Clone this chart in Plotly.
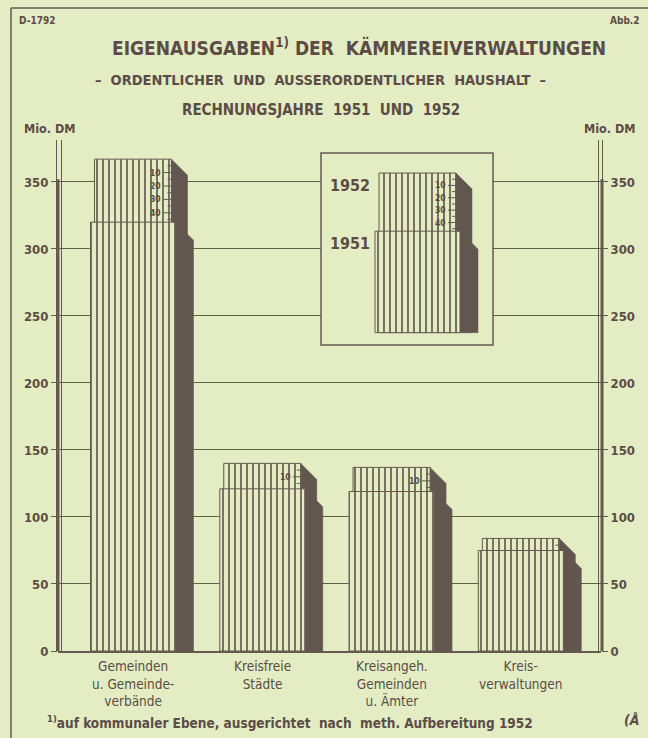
import plotly.graph_objects as go

# ---------------- data ----------------
categories = ["Gemeinden<br>u. Gemeinde-<br>verbände", "Kreisfreie<br>Städte",
              "Kreisangeh.<br>Gemeinden<br>u. Ämter", "Kreis-<br>verwaltungen"]
values_1951 = [320, 121, 119, 75]
values_1952 = [367, 140, 137, 84]
y_ticks = [0, 50, 100, 150, 200, 250, 300, 350]
legend_years = ["1951", "1952"]
legend_values = [320, 367]
scale_step = 10

# ---------------- styling / layout helpers ----------------
W, H = 648, 738
ML, MR, MT, MB = 58, 47, 140, 87
PW, PH = W - ML - MR, H - MT - MB
BG = "#e3ecc3"
INK = "#5b4d46"
LINE = "#665950"
GRID = "#58634a"
SHADOW = "#62574f"
FONT2 = "DejaVu Sans Condensed, Liberation Sans Narrow, sans-serif"


def pxx(x):
    return (x - ML) / PW


def pxy(y):
    return (H - MB - y) / PH


YMAX = 381.3
XR = [-0.58, 3.62]
ppx = PW / (XR[1] - XR[0])
ppy = PH / YMAX
W51 = 85 / ppx
W52 = 77 / ppx

# inset axes
XR3 = [-(417.5 - 321) / ppx, (493 - 417.5) / ppx]
YR3 = [228, 383.2]
ppy3 = (345 - 153) / (YR3[1] - YR3[0])
BASE3 = 238

fig = go.Figure()


def shadow_paths(xs, v51, v52, py_unit, base):
    sx, sy = [], []
    for c, a, b in zip(xs, v51, v52):
        for top, w, d in ((b, W52, 16), (a, W51, 18)):
            xr = c + w / 2
            dx = d / ppx
            dy = d / py_unit
            sx += [xr, xr + dx, xr + dx, xr, xr, None]
            sy += [top, top - dy, base, base, top, None]
    return sx, sy


def scale_marks(xs, v51, v52, xref, yref):
    tx, ty, ann = [], [], []
    for c, a, b in zip(xs, v51, v52):
        xr = c + W52 / 2
        k = 5
        while k < b - a:
            ln = (8 if k % scale_step == 0 else 4) / ppx
            tx += [xr - ln, xr, None]
            ty += [b - k, b - k, None]
            if k % scale_step == 0:
                ann.append(dict(x=xr, y=b - k, xref=xref, yref=yref, text="<b>%d</b>" % k,
                                showarrow=False, xanchor="right", xshift=-8,
                                font=dict(size=8.5, color=INK, family=FONT2)))
            k += 5
    return tx, ty, ann


xs = list(range(len(categories)))

# main shadows (below bars)
sx, sy = shadow_paths(xs, values_1951, values_1952, ppy, 0)
fig.add_trace(go.Scatter(x=sx, y=sy, mode="lines", fill="toself", fillcolor=SHADOW,
                         line=dict(color=SHADOW, width=0.5), xaxis="x", yaxis="y",
                         hoverinfo="skip"))

pattern = dict(shape="|", fgcolor=LINE, bgcolor=BG, size=6, solidity=0.28, fillmode="replace")

fig.add_trace(go.Bar(x=xs, y=values_1952, width=W52, xaxis="x2", yaxis="y2", name="1952",
                     marker=dict(color=BG, pattern=pattern, line=dict(color=LINE, width=1))))
fig.add_trace(go.Bar(x=xs, y=values_1951, width=W51, xaxis="x2", yaxis="y2", name="1951",
                     marker=dict(color=BG, pattern=pattern, line=dict(color=LINE, width=1))))

tx, ty, ann_main = scale_marks(xs, values_1951, values_1952, "x2", "y2")
fig.add_trace(go.Scatter(x=tx, y=ty, mode="lines", line=dict(color=LINE, width=1),
                         xaxis="x2", yaxis="y2", hoverinfo="skip"))

# ---------------- inset legend ----------------
fig.add_trace(go.Scatter(x=[XR3[0], XR3[1], XR3[1], XR3[0], XR3[0]],
                         y=[YR3[0], YR3[0], YR3[1], YR3[1], YR3[0]],
                         mode="lines", fill="toself", fillcolor=BG, line=dict(width=0),
                         xaxis="x3", yaxis="y3", hoverinfo="skip"))
lsx, lsy = shadow_paths([0], [legend_values[0]], [legend_values[1]], ppy3, BASE3)
fig.add_trace(go.Scatter(x=lsx, y=lsy, mode="lines", fill="toself", fillcolor=SHADOW,
                         line=dict(color=SHADOW, width=0.5), xaxis="x3", yaxis="y3",
                         hoverinfo="skip"))
fig.add_trace(go.Bar(x=[0], y=[legend_values[1] - BASE3], base=BASE3, width=W52,
                     xaxis="x4", yaxis="y4",
                     marker=dict(color=BG, pattern=pattern, line=dict(color=LINE, width=1))))
fig.add_trace(go.Bar(x=[0], y=[legend_values[0] - BASE3], base=BASE3, width=W51,
                     xaxis="x4", yaxis="y4",
                     marker=dict(color=BG, pattern=pattern, line=dict(color=LINE, width=1))))
ltx, lty, ann_leg = scale_marks([0], [legend_values[0]], [legend_values[1]], "x4", "y4")
fig.add_trace(go.Scatter(x=ltx, y=lty, mode="lines", line=dict(color=LINE, width=1),
                         xaxis="x4", yaxis="y4", hoverinfo="skip"))

annotations = ann_main + ann_leg
for yr, val in zip(legend_years, legend_values):
    annotations.append(dict(x=-W51 / 2, y=val, xref="x4", yref="y4", text="<b>%s</b>" % yr,
                            showarrow=False, xanchor="right", yanchor="top", xshift=-3,
                            yshift=-1, font=dict(size=16, color=INK, family=FONT2)))

# category labels
for c, lab in zip(xs, categories):
    annotations.append(dict(x=c, y=0, xref="x", yref="y", text=lab, showarrow=False,
                            xanchor="center", yanchor="top", yshift=-5,
                            font=dict(size=13.5, color=INK, family=FONT2)))


# ---------------- texts ----------------
def txt(text, x, y, size, xanchor="center", bold=True, family=FONT2):
    annotations.append(dict(x=pxx(x), y=pxy(y), xref="paper", yref="paper",
                            text=("<b>%s</b>" % text) if bold else text, showarrow=False,
                            xanchor=xanchor, yanchor="middle",
                            font=dict(size=size, color=INK, family=family)))


txt("D-1792", 17, 20, 10, "left")
txt("Abb.2", 642, 20, 10, "right")
txt("EIGENAUSGABEN<sup>1)</sup> DER  KÄMMEREIVERWALTUNGEN", 359, 47, 19)
txt("–  ORDENTLICHER  UND  AUSSERORDENTLICHER  HAUSHALT  –", 320, 80, 14.5)
txt("RECHNUNGSJAHRE  1951  UND  1952", 321, 110, 15)
txt("Mio. DM", 50, 128, 12.5)
txt("Mio. DM", 610, 128, 12.5)
txt("<sup>1)</sup>auf kommunaler Ebene, ausgerichtet  nach  meth. Aufbereitung 1952",
    45, 722, 13.5, "left", bold=True)
txt("<i>(Å</i>", 632, 720, 14, "center", bold=True)

# ---------------- shapes (frame, axis lines, inset border) ----------------
shapes = [
    dict(type="line", xref="paper", yref="paper", x0=pxx(11), x1=pxx(648), y0=pxy(8), y1=pxy(8),
         line=dict(color=LINE, width=1.5)),
    dict(type="line", xref="paper", yref="paper", x0=pxx(11), x1=pxx(11), y0=pxy(8), y1=pxy(738),
         line=dict(color=LINE, width=1.5)),
    # left axis
    dict(type="line", xref="paper", yref="y", x0=pxx(56.5), x1=pxx(56.5), y0=0, y1=YMAX,
         line=dict(color=LINE, width=1)),
    dict(type="line", xref="paper", yref="y", x0=pxx(58), x1=pxx(58), y0=0, y1=352,
         line=dict(color=LINE, width=3)),
    dict(type="line", xref="paper", yref="y", x0=pxx(61.5), x1=pxx(61.5), y0=0, y1=YMAX,
         line=dict(color=LINE, width=1)),
    # right axis
    dict(type="line", xref="paper", yref="y", x0=pxx(598.5), x1=pxx(598.5), y0=0, y1=YMAX,
         line=dict(color=LINE, width=1)),
    dict(type="line", xref="paper", yref="y", x0=pxx(602), x1=pxx(602), y0=0, y1=352,
         line=dict(color=LINE, width=3)),
    dict(type="line", xref="paper", yref="y", x0=pxx(602.5), x1=pxx(602.5), y0=0, y1=YMAX,
         line=dict(color=LINE, width=1)),
    # inset border
    dict(type="rect", xref="paper", yref="paper", x0=pxx(321), x1=pxx(493), y0=pxy(345),
         y1=pxy(153), line=dict(color=LINE, width=1.5)),
]

tickfont = dict(size=13, color=INK, family=FONT2, weight="bold")
fig.update_layout(
    width=W, height=H, margin=dict(l=ML, r=MR, t=MT, b=MB),
    paper_bgcolor=BG, plot_bgcolor=BG, showlegend=False, barmode="overlay",
    annotations=annotations, shapes=shapes,
    xaxis=dict(range=XR, showgrid=False, zeroline=False, showticklabels=False,
               ticks="", showline=True, linecolor=LINE, linewidth=2),
    yaxis=dict(range=[0, YMAX], tickvals=y_ticks, showgrid=True, gridcolor=GRID, gridwidth=1,
               ticks="outside", ticklen=6, tickcolor=GRID, zeroline=False, showline=False,
               tickfont=tickfont),
    xaxis2=dict(overlaying="x", range=XR, visible=False),
    yaxis2=dict(overlaying="y", side="right", anchor="x2", range=[0, YMAX], tickvals=y_ticks,
                showgrid=False, ticks="outside", ticklen=6, tickcolor=GRID, zeroline=False,
                showline=False, tickfont=tickfont),
    xaxis3=dict(domain=[pxx(321), pxx(493)], anchor="y3", range=XR3, visible=False),
    yaxis3=dict(domain=[pxy(345), pxy(153)], anchor="x3", range=YR3, visible=False),
    xaxis4=dict(overlaying="x3", anchor="y4", range=XR3, visible=False),
    yaxis4=dict(overlaying="y3", anchor="x4", range=YR3, visible=False),
)

fig.write_html("out.html", config={"displayModeBar": False},
               post_script="document.body.style.margin='0';document.body.style.overflow='hidden';")
